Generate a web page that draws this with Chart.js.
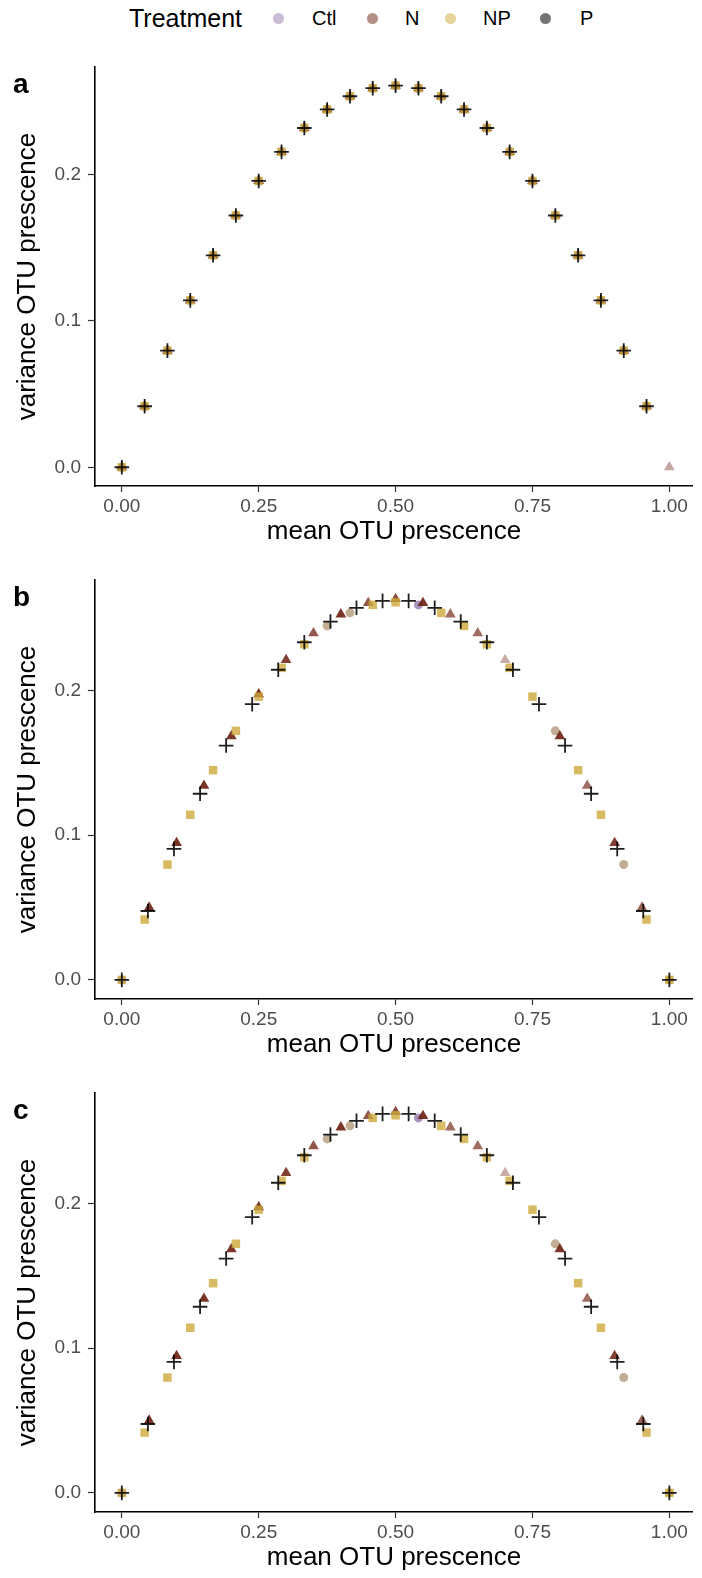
<!DOCTYPE html>
<html>
<head>
<meta charset="utf-8">
<script src="https://cdn.jsdelivr.net/npm/chart.js@4.4.1/dist/chart.umd.min.js"></script>
<style>
  html, body { margin: 0; padding: 0; background: #fff; width: 702px; height: 1578px; overflow: hidden; }
  body { position: relative; font-family: "Liberation Sans", Arial, sans-serif; }
  .panel { position: absolute; left: 0; width: 702px; height: 520px; }
  #legend { position: absolute; top: 0; left: 0; width: 702px; height: 36px; }
  #legend .txt { position: absolute; top: 6px; font-size: 20px; line-height: 24px; color: #000; white-space: nowrap; }
  #legend .title { font-size: 25px; top: 4px; line-height: 28px; }
  #legend .dot { position: absolute; top: 13px; width: 11px; height: 11px; border-radius: 50%; }
</style>
</head>
<body>
<div id="legend"></div>
<div class="panel" style="top:40px"><canvas id="chartA" width="702" height="520"></canvas></div>
<div class="panel" style="top:553px"><canvas id="chartB" width="702" height="520"></canvas></div>
<div class="panel" style="top:1066px"><canvas id="chartC" width="702" height="520"></canvas></div>
<script>
// treatments + legend colours
const treatments = ['Ctl', 'N', 'NP', 'P'];
const legendColors = ['rgba(147,121,173,0.5)', 'rgba(108,31,14,0.5)', 'rgba(205,169,57,0.5)', 'rgba(0,0,0,0.55)'];

const xTicks = [0, 0.25, 0.5, 0.75, 1];
const yTicks = [0, 0.1, 0.2];

// panel a : every treatment sits on the same 24-sample points
const meanA = [0, 0.0417, 0.0833, 0.125, 0.1667, 0.2083, 0.25, 0.2917, 0.3333, 0.375, 0.4167, 0.4583,
  0.5, 0.5417, 0.5833, 0.625, 0.6667, 0.7083, 0.75, 0.7917, 0.8333, 0.875, 0.9167, 0.9583];
const varA = [0, 0.0417, 0.0797, 0.1141, 0.1449, 0.1721, 0.1957, 0.2156, 0.2319, 0.2446, 0.2536, 0.2591,
  0.2609, 0.2591, 0.2536, 0.2446, 0.2319, 0.2156, 0.1957, 0.1721, 0.1449, 0.1141, 0.0797, 0.0417];
const nMeanA = meanA.concat([1]);
const nVarA = varA.concat([0]);
const nAlphaA = meanA.map(() => 0.85).concat([0.4]);

// panel b (panel c shows the same values)
const ctlMeanB = [0, 0.375, 0.4167, 0.5417, 0.7917, 0.9167, 1];
const ctlVarB = [0, 0.2446, 0.2536, 0.2591, 0.1721, 0.0797, 0];
const ctlColB = ['rgba(147,121,173,0.6)', 'rgba(185,160,130,0.85)', 'rgba(185,160,130,0.85)', 'rgba(147,121,173,0.8)',
  'rgba(185,160,130,0.85)', 'rgba(185,160,130,0.85)', 'rgba(200,170,110,0.85)'];

const nMeanB = [0.05, 0.1, 0.15, 0.2, 0.25, 0.3, 0.35, 0.4, 0.45, 0.5, 0.55, 0.6, 0.65, 0.7, 0.8, 0.85, 0.9, 0.95];
const nVarB = [0.05, 0.0947, 0.1342, 0.1684, 0.1974, 0.2211, 0.2395, 0.2526, 0.2605, 0.2632, 0.2605, 0.2526,
  0.2395, 0.2211, 0.1684, 0.1342, 0.0947, 0.05];
const nAlphaB = [0.9, 0.9, 0.9, 0.9, 0.9, 0.85, 0.75, 0.9, 0.75, 0.8, 0.9, 0.65, 0.65, 0.37, 0.9, 0.65, 0.85, 0.7];

const npMeanB = [0, 0.0417, 0.0833, 0.125, 0.1667, 0.2083, 0.25, 0.2917, 0.3333, 0.4583, 0.5, 0.5833,
  0.625, 0.6667, 0.7083, 0.75, 0.8333, 0.875, 0.9583, 1];
const npVarB = [0, 0.0417, 0.0797, 0.1141, 0.1449, 0.1721, 0.1957, 0.2156, 0.2319, 0.2591, 0.2609, 0.2536,
  0.2446, 0.2319, 0.2156, 0.1957, 0.1449, 0.1141, 0.0417, 0];

const pMeanB = [0, 0.0476, 0.0952, 0.1429, 0.1905, 0.2381, 0.2857, 0.3333, 0.381, 0.4286, 0.4762, 0.5238,
  0.5714, 0.619, 0.6667, 0.7143, 0.7619, 0.8095, 0.8571, 0.9048, 0.9524, 1];
const pVarB = [0, 0.0476, 0.0905, 0.1286, 0.1619, 0.1905, 0.2143, 0.2333, 0.2476, 0.2571, 0.2619, 0.2619,
  0.2571, 0.2476, 0.2333, 0.2143, 0.1905, 0.1619, 0.1286, 0.0905, 0.0476, 0];

const FONT = '"Liberation Sans", Arial, sans-serif';
Chart.defaults.font.family = FONT;

function pts(xs, ys) {
  return xs.map((x, i) => ({ x: x, y: ys[i] }));
}

// legend (html)
function buildLegend() {
  const lg = document.getElementById('legend');
  const t = document.createElement('span');
  t.className = 'txt title';
  t.style.left = '129px';
  t.textContent = 'Treatment';
  lg.appendChild(t);
  const dotX = [273, 367, 445, 540];
  const txtX = [312, 405, 483, 580];
  treatments.forEach((name, i) => {
    const d = document.createElement('span');
    d.className = 'dot';
    d.style.left = dotX[i] + 'px';
    d.style.background = legendColors[i];
    lg.appendChild(d);
    const s = document.createElement('span');
    s.className = 'txt';
    s.style.left = txtX[i] + 'px';
    s.textContent = name;
    lg.appendChild(s);
  });
}

const panelLetter = {
  id: 'panelLetter',
  afterDraw(chart, args, opts) {
    const ctx = chart.ctx;
    ctx.save();
    ctx.font = 'bold 28px ' + FONT;
    ctx.fillStyle = '#000';
    ctx.textBaseline = 'alphabetic';
    ctx.fillText(opts.text, 13, chart.chartArea.top + 26);
    ctx.restore();
  }
};

function makePanel(id, letter, ds, yMin, yMax) {
  const ctx = document.getElementById(id);
  return new Chart(ctx, {
    type: 'scatter',
    data: {
      datasets: [
        { label: 'Ctl', data: pts(ds.ctlX, ds.ctlY), pointStyle: 'circle', pointRadius: 4.5,
          backgroundColor: ds.ctlCol, borderWidth: 0, order: 4 },
        { label: 'N', data: pts(ds.nX, ds.nY), pointStyle: 'triangle', pointRadius: 6.2,
          backgroundColor: ds.nA.map(a => 'rgba(108,31,14,' + a + ')'), borderWidth: 0, order: 3 },
        { label: 'NP', data: pts(ds.npX, ds.npY), pointStyle: 'rect', pointRadius: 6,
          backgroundColor: 'rgba(205,169,57,0.8)', borderWidth: 0, order: 2 },
        { label: 'P', data: pts(ds.pX, ds.pY), pointStyle: 'cross', pointRadius: 7.3,
          borderColor: 'rgba(0,0,0,0.88)', borderWidth: 1.8, order: 1 }
      ]
    },
    options: {
      responsive: false,
      animation: false,
      events: [],
      layout: { padding: { top: 27, left: 0, right: 0, bottom: 0 } },
      plugins: {
        legend: { display: false },
        tooltip: { enabled: false },
        panelLetter: { text: letter }
      },
      scales: {
        x: {
          type: 'linear', min: -0.049, max: 1.043,
          afterBuildTicks: s => { s.ticks = xTicks.map(v => ({ value: v })); },
          afterFit: s => { s.height = 74; },
          ticks: { color: '#4d4d4d', font: { size: 19 }, padding: 3, maxRotation: 0,
            callback: v => v.toFixed(2) },
          grid: { drawOnChartArea: false, tickLength: 6, tickColor: '#333', tickWidth: 1.2 },
          border: { color: '#000', width: 1.6 },
          title: { display: true, text: 'mean OTU prescence', color: '#000', font: { size: 26 },
            padding: { top: 0, bottom: 12.5 } }
        },
        y: {
          type: 'linear', min: yMin, max: yMax,
          afterBuildTicks: s => { s.ticks = yTicks.map(v => ({ value: v })); },
          afterFit: s => { s.width = 95; },
          ticks: { color: '#4d4d4d', font: { size: 19 }, padding: 7, callback: v => v.toFixed(1) },
          grid: { drawOnChartArea: false, tickLength: 7, tickColor: '#333', tickWidth: 1.2 },
          border: { color: '#000', width: 1.6 },
          title: { display: true, text: 'variance OTU prescence', color: '#000', font: { size: 26 },
            padding: { top: 12.5, bottom: 0 } }
        }
      }
    },
    plugins: [panelLetter]
  });
}

window.addEventListener('DOMContentLoaded', () => {
  buildLegend();
  const panelA = {
    ctlX: meanA, ctlY: varA, ctlCol: 'rgba(147,121,173,0.6)',
    nX: nMeanA, nY: nVarA, nA: nAlphaA,
    npX: meanA, npY: varA,
    pX: meanA, pY: varA
  };
  const panelB = {
    ctlX: ctlMeanB, ctlY: ctlVarB, ctlCol: ctlColB,
    nX: nMeanB, nY: nVarB, nA: nAlphaB,
    npX: npMeanB, npY: npVarB,
    pX: pMeanB, pY: pVarB
  };
  makePanel('chartA', 'a', panelA, -0.0128, 0.2736);
  makePanel('chartB', 'b', panelB, -0.0132, 0.2763);
  makePanel('chartC', 'c', panelB, -0.0132, 0.2763);
});
</script>
</body>
</html>
